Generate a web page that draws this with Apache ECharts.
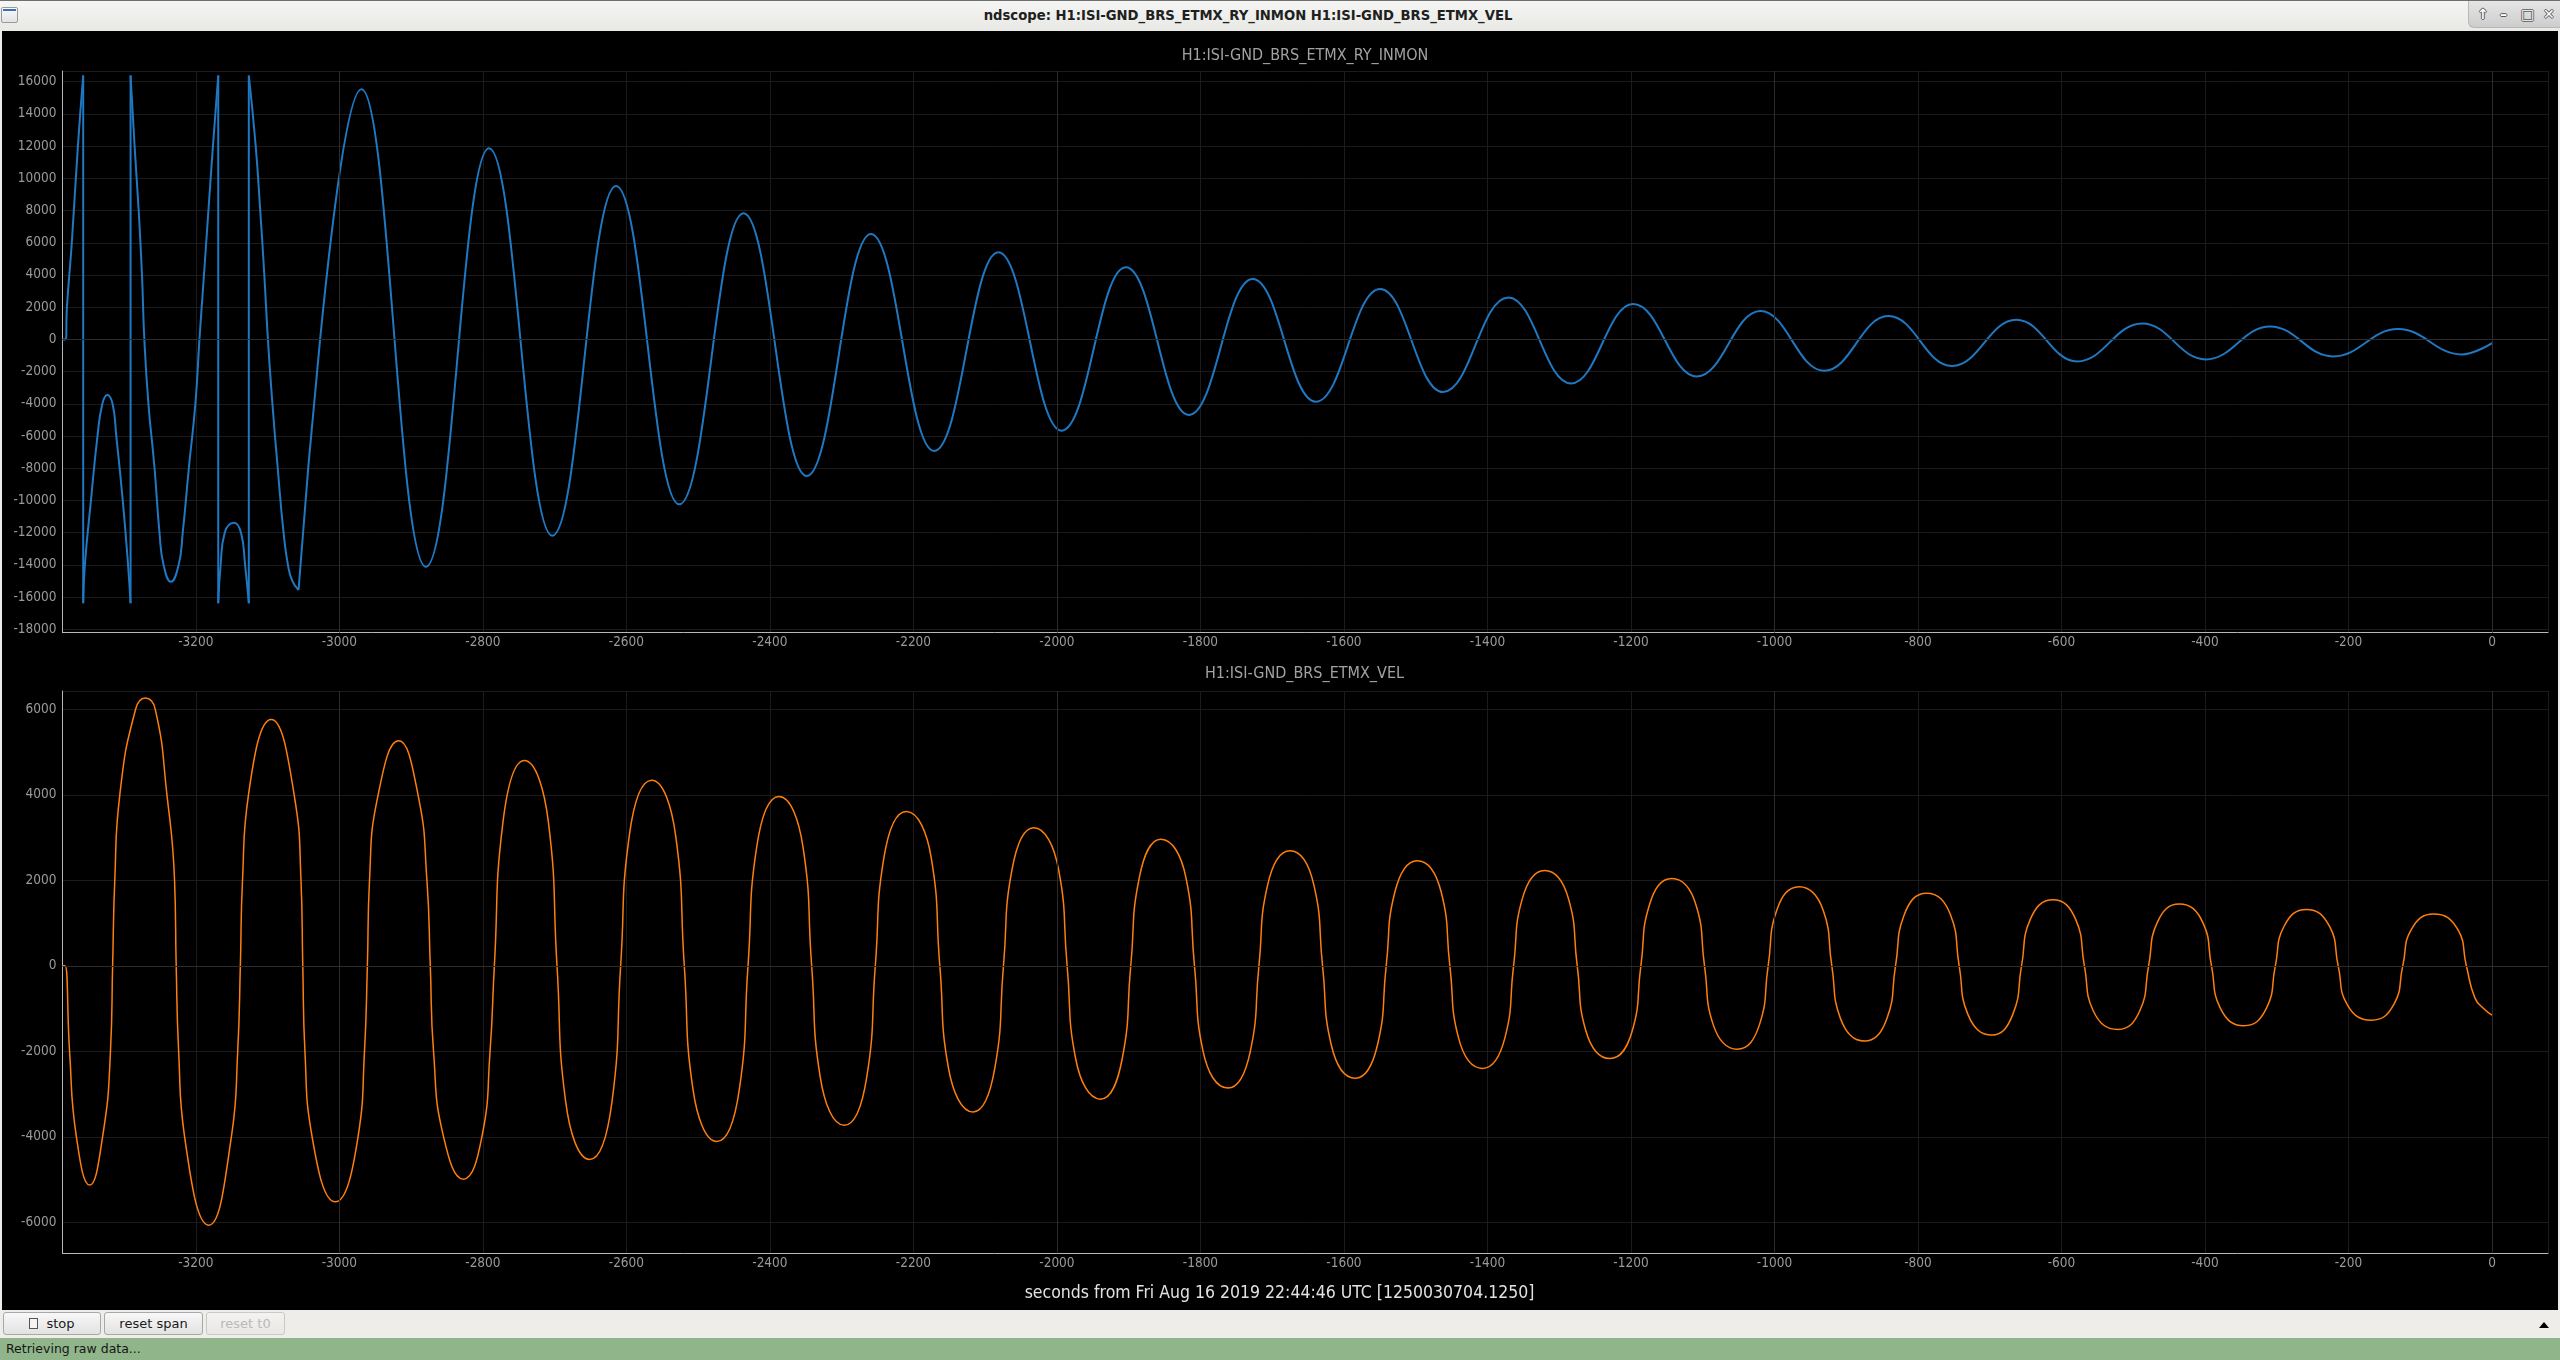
<!DOCTYPE html>
<html>
<head>
<meta charset="utf-8">
<script src="https://cdn.jsdelivr.net/npm/echarts@6/dist/echarts.min.js"></script>
<style>
html,body{margin:0;padding:0;width:2560px;height:1360px;overflow:hidden;background:#efede9;font-family:'DejaVu Sans',sans-serif;}
#titlebar{position:absolute;left:0;top:0;width:2560px;height:31px;box-sizing:border-box;border-top:1px solid #6f6f6f;background:linear-gradient(#f5f5f3,#e8e8e5);}
#wintitle{position:absolute;left:0;top:0;width:2496px;height:30px;line-height:30px;text-align:center;font-weight:bold;font-size:13.2px;color:#202020;}
#winicon{position:absolute;left:1px;top:6px;width:17px;height:16px;box-sizing:border-box;border:1px solid #9a9a9a;background:linear-gradient(#fafafa,#e3e3e3);border-radius:2px;}
#winicon:before{content:"";position:absolute;left:1px;right:1px;top:1px;height:2px;background:#3d6fb5;}
#winbtns{position:absolute;left:2468px;top:0;width:92px;height:27px;box-sizing:border-box;border-left:1px solid #b8b8b8;border-bottom:1px solid #b8b8b8;border-bottom-left-radius:6px;background:linear-gradient(#e6e6e6,#cdcdcd);}
.wb{position:absolute;top:5px;font-size:14px;line-height:16px;color:#ffffff;font-weight:bold;text-shadow:1px 0 0 #5a5a5a,-1px 0 0 #5a5a5a,0 1px 0 #5a5a5a,0 -1px 0 #5a5a5a;}
#chart{position:absolute;left:2px;top:31px;width:2556px;height:1279px;background:#000;}
#bottombar{position:absolute;left:0;top:1310px;width:2560px;height:28px;background:#efede9;}
.btn{position:absolute;top:2px;height:23px;box-sizing:border-box;border:1px solid #a8a8a8;border-radius:3px;background:linear-gradient(#f8f8f8,#e2e2e2);font-size:13px;line-height:21px;text-align:center;color:#1a1a1a;}
#btn3{color:#b9b9b9;border-color:#c9c9c9;background:linear-gradient(#f3f2f0,#e9e8e5);}
#chk{display:inline-block;width:7px;height:9px;border:1px solid #555;background:#f4f4f4;vertical-align:-1px;margin-right:8px;}
#tri{position:absolute;left:2539px;top:12px;width:0;height:0;border-left:5px solid transparent;border-right:5px solid transparent;border-bottom:6px solid #000;}
#status{position:absolute;left:0;top:1338px;width:2560px;height:22px;background:#91b58b;font-size:12.5px;line-height:22px;color:#151515;padding-left:6px;box-sizing:border-box;}
</style>
</head>
<body>
<div id="titlebar">
  <div id="winicon"></div>
  <div id="wintitle">ndscope: H1:ISI-GND_BRS_ETMX_RY_INMON H1:ISI-GND_BRS_ETMX_VEL</div>
  <div id="winbtns">
    <span class="wb" style="left:8px;">&#8593;</span>
    <span class="wb" style="left:31px;">&#8211;</span>
    <span class="wb" style="left:52px;">&#9633;</span>
    <span class="wb" style="left:74px;">&#10005;</span>
  </div>
</div>
<div id="chart"></div>
<div id="bottombar">
  <div class="btn" style="left:3px;width:98px;"><span id="chk"></span>stop</div>
  <div class="btn" style="left:104px;width:99px;">reset span</div>
  <div class="btn" id="btn3" style="left:206px;width:79px;">reset t0</div>
  <div id="tri"></div>
</div>
<div id="status">Retrieving raw data...</div>
<script>
// ---------------- data ----------------
const X_RANGE = [-3386, 78];
const X_TICK_STEP = 200;
const TOP_Y_RANGE = [-18211, 16664];
const BOTTOM_Y_RANGE = [-6725, 6428];
const Y_TICK_STEP = 2000;
const MAJOR_X_LINES = [-3000, -2000, -1000, 0];

const TOP_TITLE = 'H1:ISI-GND_BRS_ETMX_RY_INMON';
const BOTTOM_TITLE = 'H1:ISI-GND_BRS_ETMX_VEL';
const X_LABEL = 'seconds from Fri Aug 16 2019 22:44:46 UTC [1250030704.1250]';

// RY_INMON: segments of the wrapped (saturated at +/-16384) start
const BLUE_SEG_1 = [[-3386,0],[-3381.4,0],[-3379.7,2000],[-3372.9,6000],[-3364.4,12000],[-3357,16384]];
const BLUE_SEG_2 = [[-3357,-16384],[-3354.7,-14000],[-3346.2,-10000],[-3337.1,-6000],[-3330.3,-4000],[-3323.5,-3452],[-3316.1,-4000],[-3310.9,-6000],[-3301.9,-10000],[-3294.5,-14000],[-3291,-16384]];
const BLUE_SEG_3 = [[-3291,16384],[-3285.4,12000],[-3279.7,8000],[-3275.1,4000],[-3271.8,0],[-3266.1,-4000],[-3257.6,-8000],[-3250.7,-12000],[-3245,-14000],[-3234.9,-15044],[-3224,-14000],[-3218.3,-12000],[-3209.8,-8000],[-3200.7,-4000],[-3195,0],[-3188.7,4000],[-3182.5,8000],[-3176.2,12000],[-3168.8,16384]];
const BLUE_SEG_4 = [[-3168.8,-16384],[-3165.5,-14000],[-3159.8,-12000],[-3146.7,-11380],[-3137.1,-12000],[-3131.4,-14000],[-3126.2,-16384]];
const BLUE_SEG_5 = [[-3126.2,16384],[-3116.6,12000],[-3110.3,8000],[-3104.6,4000],[-3099.6,0],[-3093.3,-4000],[-3085.9,-8000],[-3077.8,-12000],[-3071.7,-14000],[-3065.6,-15000],[-3056.9,-15560]];
// wrap jumps: [x, from, to]
const BLUE_JUMPS = [[-3357,16384,-16384],[-3291,-16384,16384],[-3168.8,16384,-16384],[-3126.2,-16384,16384]];
// RY_INMON: extrema of the damped oscillation afterwards
const BLUE_EXTREMA = [
  [-3056.9,-15560],[-2969.3,15529],[-2879.5,-14113],[-2791.4,11866],[-2703.3,-12189],[-2614.4,9525],
  [-2526.4,-10240],[-2436.8,7829],[-2348.8,-8481],[-2259.2,6544],[-2171.2,-6929],[-2081.6,5406],
  [-1993.6,-5667],[-1904,4475],[-1816,-4694],[-1727.2,3750],[-1639.2,-3868],[-1549.6,3129],
  [-1462,-3270],[-1371,2608],[-1283.5,-2732],[-1196.9,2194],[-1108.2,-2298],[-1019.6,1760],
  [-930.9,-1946],[-841.2,1449],[-752.6,-1656],[-662.9,1221],[-578.3,-1366],[-487.6,994],
  [-399,-1242],[-309.3,807],[-221.6,-1056],[-130.9,642],[-42.3,-932],[0,-228]
];

// VEL
const ORANGE_VEL = [
  [-3386,0],[-3382.4,0],[-3376,-2000],[-3366.5,-4000],[-3348,-5130],[-3330,-4000],[-3319,-2000],[-3316,0],
  [-3313,2000],[-3306,4000],[-3284,6000],[-3270.5,6262],[-3256.6,6000],[-3240.3,4000],[-3229.7,2000],[-3227.4,0],
  [-3224,-2000],[-3215.7,-4000],[-3182,-6066],[-3150.5,-4000],[-3141.7,-2000],[-3138,0],
  [-3135,2000],[-3126.7,4000],[-3095,5762],[-3063,4000],[-3053.5,2000],[-3051,0],
  [-3048,-2000],[-3038,-4000],[-3005.7,-5520],[-2974,-4000],[-2965,-2000],[-2961,0],
  [-2958,2000],[-2946,4000],[-2917.4,5263],[-2890.4,4000],[-2878,2000],[-2873.3,0],
  [-2868.8,-2000],[-2854.8,-4000],[-2827,-4990],[-2801.4,-4000],[-2790,-2000],[-2784,0],
  [-2772,3360],[-2742.2,4800],[-2708.7,3360],[-2696.7,0],
  [-2684.7,-3170],[-2651.2,-4530],[-2620,-3170],[-2608,0],
  [-2596,3040],[-2564.8,4340],[-2531.3,3040],[-2519.3,0],
  [-2507.3,-2880],[-2473.8,-4110],[-2442.5,-2880],[-2430.5,0],
  [-2418.5,2770],[-2387.3,3960],[-2353.8,2770],[-2341.8,0],
  [-2329.8,-2610],[-2296.3,-3730],[-2265.1,-2610],[-2253.1,0],
  [-2241.1,2530],[-2209.9,3610],[-2175.2,2530],[-2163.2,0],
  [-2151.2,-2390],[-2116.6,-3420],[-2086.5,-2390],[-2074.5,0],
  [-2062.5,2260],[-2032.4,3230],[-1997.8,2260],[-1985.8,0],
  [-1973.8,-2180],[-1939.2,-3120],[-1909.1,-2180],[-1897.1,0],
  [-1885.1,2070],[-1855,2960],[-1820.3,2070],[-1808.3,0],
  [-1796.3,-2000],[-1761.7,-2860],[-1730.5,-2000],[-1718.5,0],
  [-1706.5,1880],[-1675.3,2690],[-1641.8,1880],[-1629.8,0],
  [-1617.8,-1840],[-1584.3,-2630],[-1553.1,-1840],[-1541.1,0],
  [-1529.1,1720],[-1497.9,2460],[-1464.4,1720],[-1452.4,0],
  [-1440.4,-1680],[-1406.9,-2400],[-1375.6,-1680],[-1363.6,0],
  [-1351.6,1560],[-1320.4,2230],[-1286.9,1560],[-1274.9,0],
  [-1262.9,-1520],[-1229.4,-2170],[-1198.2,-1520],[-1186.2,0],
  [-1174.2,1430],[-1143,2040],[-1109.5,1430],[-1097.5,0],
  [-1085.5,-1370],[-1052,-1950],[-1020.8,-1370],[-1008.8,0],
  [-996.8,1300],[-965.6,1850],[-932.1,1300],[-920.1,0],
  [-908.1,-1230],[-874.6,-1760],[-843.3,-1230],[-831.3,0],
  [-819.3,1190],[-788.1,1700],[-754.6,1190],[-742.6,0],
  [-730.6,-1130],[-697.1,-1620],[-667.7,-1130],[-655.7,0],
  [-643.7,1080],[-611.9,1544],[-580.1,1080],[-568.1,0],
  [-556.1,-1040],[-521.4,-1489],[-490.6,-1040],[-478.6,0],
  [-466.6,1010],[-435.8,1443],[-403,1010],[-391,0],
  [-379,-980],[-345.8,-1403],[-314,-980],[-302,0],
  [-290,920],[-258.7,1318],[-226.4,920],[-214.4,0],
  [-202.4,-890],[-168.2,-1271],[-136.4,-890],[-124.4,0],
  [-112.4,850],[-81.1,1209],[-47.8,850],[-35.8,0],
  [-23.9,-750],[-11.4,-1006],[0,-1154]
];

// ---------------- chart ----------------
const BLUE = '#1f78c2';
const ORANGE = '#ff7f0e';
const FONT = "'DejaVu Sans Condensed', 'DejaVu Sans', sans-serif";

function joinSegments(segs) {
  const out = [];
  segs.forEach((s, i) => { if (i) out.push([s[0][0], '-']); out.push(...s); });
  return out;
}
const blueWrapped = joinSegments([BLUE_SEG_1, BLUE_SEG_2, BLUE_SEG_3, BLUE_SEG_4, BLUE_SEG_5]);
const blueJumps = [];
BLUE_JUMPS.forEach((j, i) => { if (i) blueJumps.push([j[0], '-']); blueJumps.push([j[0], j[1]], [j[0], j[2]]); });

const fmt = v => String(Math.round(v));

function xAxis(gi) {
  return {
    type: 'value', gridIndex: gi, min: X_RANGE[0], max: X_RANGE[1],
    minInterval: X_TICK_STEP, maxInterval: X_TICK_STEP, splitNumber: 17,
    axisLine: { show: true, onZero: false, lineStyle: { color: '#b8b8b8', width: 1 } },
    axisTick: { show: false },
    axisLabel: { color: '#9a9a9a', fontSize: 13.5, fontFamily: FONT, margin: 3,
                 showMinLabel: false, showMaxLabel: false, formatter: fmt },
    splitLine: { show: true, lineStyle: { color: '#1b1b1b', width: 1 } }
  };
}
function yAxis(gi, range) {
  return {
    type: 'value', gridIndex: gi, min: range[0], max: range[1],
    minInterval: Y_TICK_STEP, maxInterval: Y_TICK_STEP, splitNumber: 15,
    axisLine: { show: true, onZero: false, lineStyle: { color: '#b8b8b8', width: 1 } },
    axisTick: { show: false },
    axisLabel: { color: '#9a9a9a', fontSize: 13.5, fontFamily: FONT, margin: 6,
                 showMinLabel: false, showMaxLabel: false, formatter: fmt },
    splitLine: { show: true, lineStyle: { color: '#1b1b1b', width: 1 } }
  };
}
function majorLines(gi) {
  return {
    type: 'line', xAxisIndex: gi, yAxisIndex: gi, data: [], z: 1, silent: true,
    markLine: {
      silent: true, symbol: ['none', 'none'], label: { show: false },
      lineStyle: { color: '#2c2c2c', width: 1, type: 'solid' }, animation: false,
      data: [{ yAxis: 0 }].concat(MAJOR_X_LINES.map(v => ({ xAxis: v })))
    }
  };
}

const chart = echarts.init(document.getElementById('chart'), null, { renderer: 'canvas' });
chart.setOption({
  backgroundColor: '#000000',
  animation: false,
  grid: [
    { left: 60.4, top: 40, width: 2485.6, height: 561.7, outerBoundsMode: 'none' },
    { left: 60.4, top: 660, width: 2485.6, height: 562.3, outerBoundsMode: 'none' }
  ],
  xAxis: [xAxis(0), xAxis(1)],
  yAxis: [yAxis(0, TOP_Y_RANGE), yAxis(1, BOTTOM_Y_RANGE)],
  graphic: [
    { type: 'text', x: 1303, y: 25, silent: true,
      style: { text: TOP_TITLE, fill: '#a2a2a2', font: '16px ' + FONT, align: 'center', verticalAlign: 'middle' } },
    { type: 'text', x: 1302.5, y: 643, silent: true,
      style: { text: BOTTOM_TITLE, fill: '#a2a2a2', font: '16px ' + FONT, align: 'center', verticalAlign: 'middle' } },
    { type: 'text', x: 1277.5, y: 1262, silent: true,
      style: { text: X_LABEL, fill: '#e2e2e2', font: '17.5px ' + FONT, align: 'center', verticalAlign: 'middle' } }
  ],
  series: [
    majorLines(0),
    majorLines(1),
    { type: 'line', xAxisIndex: 0, yAxisIndex: 0, data: blueWrapped, smooth: 0.5, showSymbol: false,
      connectNulls: false, silent: true, z: 3, lineStyle: { color: BLUE, width: 2 } },
    { type: 'line', xAxisIndex: 0, yAxisIndex: 0, data: blueJumps, smooth: false, showSymbol: false,
      connectNulls: false, silent: true, z: 3, lineStyle: { color: BLUE, width: 2 } },
    { type: 'line', xAxisIndex: 0, yAxisIndex: 0, data: BLUE_EXTREMA, smooth: 0.42, smoothMonotone: 'x',
      showSymbol: false, silent: true, z: 3, lineStyle: { color: BLUE, width: 2 } },
    { type: 'line', xAxisIndex: 1, yAxisIndex: 1, data: ORANGE_VEL, smooth: 0.5, showSymbol: false,
      silent: true, z: 3, lineStyle: { color: ORANGE, width: 1.5 } }
  ]
});
</script>
</body>
</html>
